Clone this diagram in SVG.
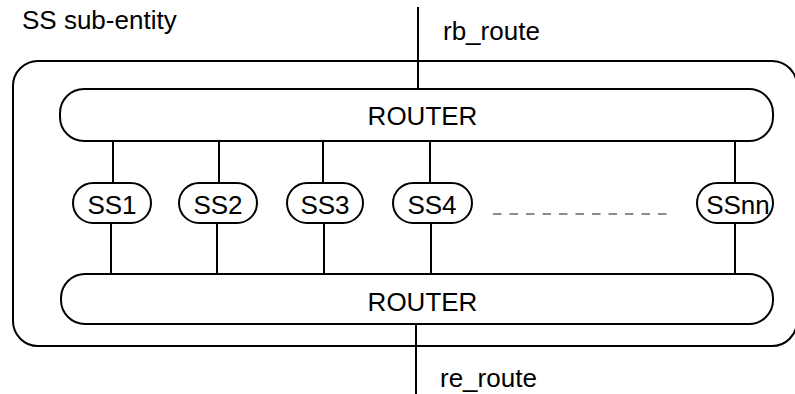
<svg xmlns="http://www.w3.org/2000/svg" width="795" height="394" viewBox="0 0 795 394">
<style>
.box{fill:#fff;stroke:#000;stroke-width:2}
.ln{stroke:#000;stroke-width:2;fill:none}
.dash{stroke:#666;stroke-width:1.5;stroke-dasharray:8.5 8;fill:none}
.t{font-family:"Liberation Sans",Arial,sans-serif;font-size:26px;fill:#000}
.c{text-anchor:middle}
</style>
<rect width="795" height="394" fill="#fff"/>
<g id="entity">
<rect class="box" x="13" y="61" width="784" height="285" rx="25" ry="25"/>
<text class="t" x="22" y="29">SS sub-entity</text>
</g>
<g id="connectors">
<line class="ln" x1="418" y1="7" x2="418" y2="89"/>
<line class="ln" x1="416" y1="324" x2="416" y2="394"/>
<line class="ln" x1="113" y1="141" x2="113" y2="183"/>
<line class="ln" x1="219" y1="141" x2="219" y2="183"/>
<line class="ln" x1="323" y1="141" x2="323" y2="183"/>
<line class="ln" x1="430" y1="141" x2="430" y2="183"/>
<line class="ln" x1="735" y1="141" x2="735" y2="183"/>
<line class="ln" x1="111" y1="223" x2="111" y2="274"/>
<line class="ln" x1="217" y1="223" x2="217" y2="274"/>
<line class="ln" x1="324" y1="223" x2="324" y2="274"/>
<line class="ln" x1="431" y1="223" x2="431" y2="274"/>
<line class="ln" x1="735" y1="223" x2="735" y2="274"/>
<line class="dash" x1="493" y1="214" x2="668" y2="214"/>
</g>
<g id="labels">
<text class="t" x="443" y="40">rb_route</text>
<text class="t" x="440" y="387">re_route</text>
</g>
<g id="router-top">
<rect class="box" x="60" y="89" width="713" height="52" rx="24" ry="24"/>
<text class="t c" x="422.5" y="125">ROUTER</text>
</g>
<g id="router-bottom">
<rect class="box" x="61" y="274" width="712" height="50" rx="24" ry="24"/>
<text class="t c" x="422.5" y="311">ROUTER</text>
</g>
<g id="ss1">
<rect class="box" x="73" y="183" width="78" height="40" rx="20" ry="20"/>
<text class="t c" x="112" y="214">SS1</text>
</g>
<g id="ss2">
<rect class="box" x="179" y="183" width="78" height="40" rx="20" ry="20"/>
<text class="t c" x="218" y="214">SS2</text>
</g>
<g id="ss3">
<rect class="box" x="287" y="183" width="76" height="40" rx="20" ry="20"/>
<text class="t c" x="325" y="214">SS3</text>
</g>
<g id="ss4">
<rect class="box" x="393" y="183" width="79" height="40" rx="20" ry="20"/>
<text class="t c" x="432" y="214">SS4</text>
</g>
<g id="ssnn">
<rect class="box" x="697" y="183" width="76" height="40" rx="20" ry="20"/>
<text class="t c" x="738" y="214">SSnn</text>
</g>
</svg>
